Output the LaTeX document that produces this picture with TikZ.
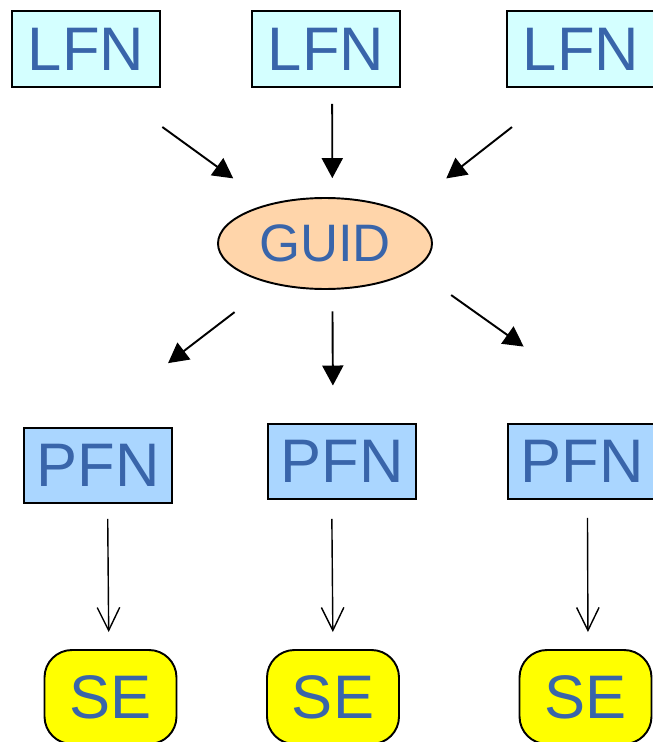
\documentclass[tikz,border=0pt]{standalone}
\usepackage{fontspec}
\setmainfont{Liberation Sans}
\usetikzlibrary{arrows.meta,shapes.geometric,calc}
\definecolor{labelblue}{RGB}{57,101,170}
\definecolor{lfnfill}{RGB}{212,255,255}
\definecolor{guidfill}{RGB}{255,213,170}
\definecolor{pfnfill}{RGB}{170,214,255}
\definecolor{sefill}{RGB}{255,255,0}
\tikzset{
  namebox/.style={draw=black, line width=1.1pt, inner sep=0pt, text=labelblue,
    font=\fontsize{35}{40}\selectfont},
  lfnbox/.style={namebox, fill=lfnfill, minimum width=2.96cm, minimum height=1.52cm},
  pfnbox/.style={namebox, fill=pfnfill, minimum width=2.96cm, minimum height=1.50cm},
  sebox/.style={namebox, fill=sefill, rounded corners=0.55cm, minimum width=2.64cm, minimum height=1.88cm},
  guidnode/.style={ellipse, draw=black, line width=1.1pt, fill=guidfill, inner sep=0pt,
    minimum width=4.28cm, minimum height=1.82cm, text=labelblue, font=\fontsize{30}{36}\selectfont},
  fatarrow/.style={line width=1.1pt, -{Triangle[length=0.40cm, width=0.42cm]}},
  thinarrow/.style={line width=0.8pt, -{Straight Barb[length=0.46cm, width=0.45cm, line width=0.8pt]}},
}

\begin{document}
\begin{tikzpicture}
\useasboundingbox (0,0) rectangle (13.06,-14.84);
\node[lfnbox] (lfn1) at (1.72,-0.98) {LFN};
\node[lfnbox] (lfn2) at (6.52,-0.98) {LFN};
\node[lfnbox] (lfn3) at (11.62,-0.98) {LFN};
\node[guidnode] (guid) at (6.50,-4.87) {GUID};
\node[pfnbox] (pfn1) at (1.96,-9.31) {PFN};
\node[pfnbox] (pfn2) at (6.84,-9.23) {PFN};
\node[pfnbox] (pfn3) at (11.64,-9.23) {PFN};
\node[sebox] (se1) at (2.21,-13.94) {SE};
\node[sebox] (se2) at (6.66,-13.94) {SE};
\node[sebox] (se3) at (11.71,-13.94) {SE};
\draw[fatarrow, shorten <=1.33cm, shorten >=0.87cm] (lfn1.-60) -- (guid.145);
\draw[fatarrow, shorten <=0.32cm, shorten >=0.38cm] (lfn2.-81) -- (guid.81);
\draw[fatarrow, shorten <=1.27cm, shorten >=1.08cm] (lfn3.-116) -- (guid.22);
\draw[fatarrow, shorten <=0.93cm, shorten >=2.10cm] (guid.-143) -- (pfn1.109);
\draw[fatarrow, shorten <=0.43cm, shorten >=0.75cm] (guid.-81) -- (pfn2.103);
\draw[fatarrow, shorten <=0.89cm, shorten >=2.64cm] (guid.-16) -- (pfn3.38);
\draw[thinarrow, shorten <=0.30cm, shorten >=0.34cm] (pfn1.-76) -- (se1.92);
\draw[thinarrow, shorten <=0.38cm, shorten >=0.34cm] (pfn2.-105) -- (se2.north);
\draw[thinarrow, shorten <=0.36cm, shorten >=0.34cm] (pfn3.-82) -- (se3.87);
\end{tikzpicture}
\end{document}
